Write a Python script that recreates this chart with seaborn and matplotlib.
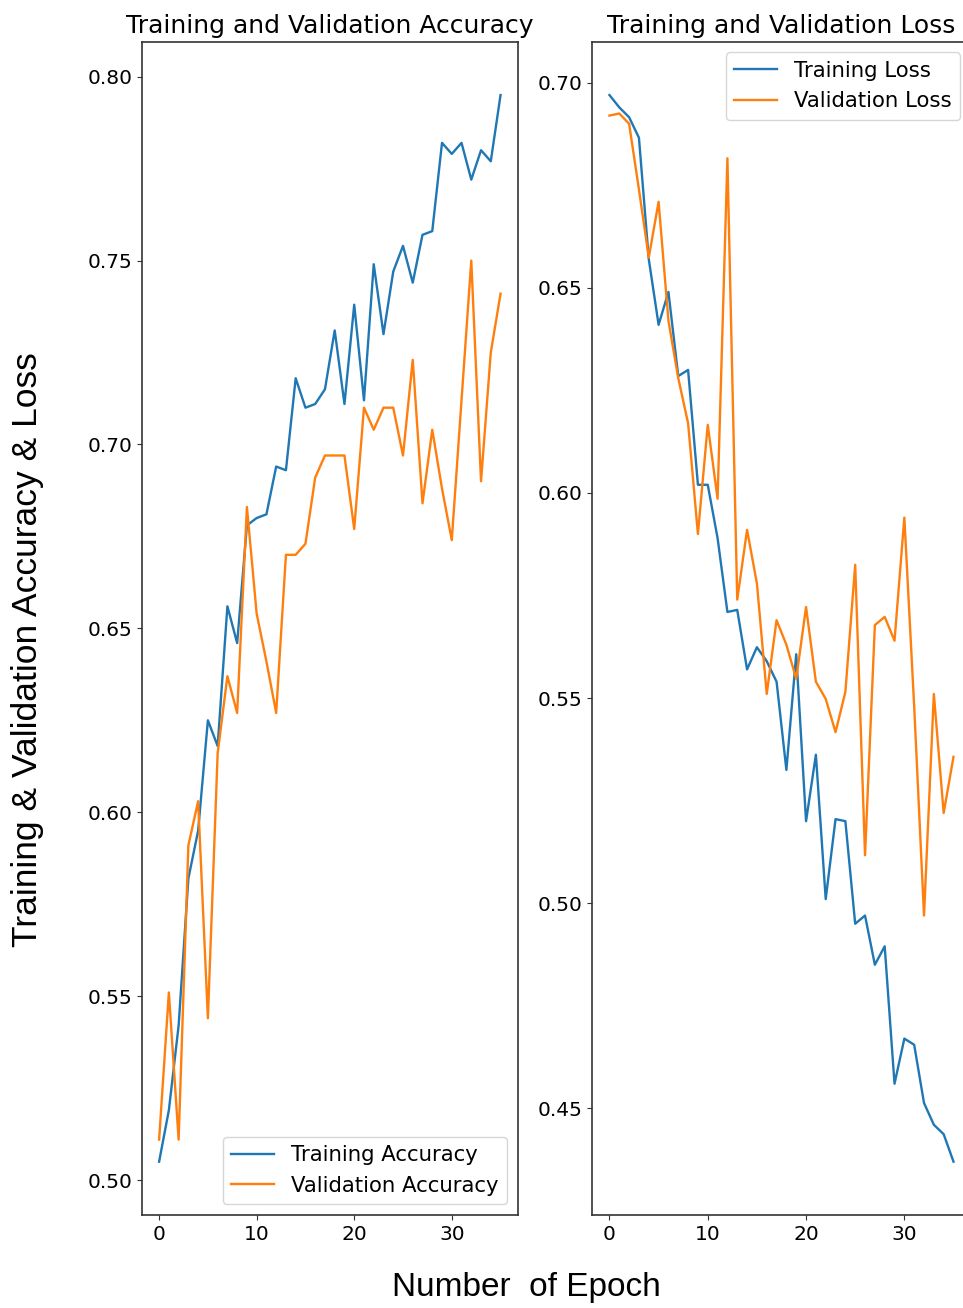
import numpy as np
import seaborn as sns
from matplotlib import pyplot as plt

# values (epochs 0..35)
epochs = np.arange(36)
train_acc = [0.505, 0.519, 0.542, 0.582, 0.595, 0.625, 0.618, 0.656, 0.646, 0.678,
             0.680, 0.681, 0.694, 0.693, 0.718, 0.710, 0.711, 0.715, 0.731, 0.711,
             0.738, 0.712, 0.749, 0.730, 0.747, 0.754, 0.744, 0.757, 0.758, 0.782,
             0.779, 0.782, 0.772, 0.780, 0.777, 0.795]
val_acc = [0.511, 0.551, 0.511, 0.591, 0.603, 0.544, 0.616, 0.637, 0.627, 0.683,
           0.654, 0.641, 0.627, 0.670, 0.670, 0.673, 0.691, 0.697, 0.697, 0.697,
           0.677, 0.710, 0.704, 0.710, 0.710, 0.697, 0.723, 0.684, 0.704, 0.688,
           0.674, 0.712, 0.750, 0.690, 0.725, 0.741]
train_loss = [0.697, 0.694, 0.6916, 0.6866, 0.657, 0.641, 0.649, 0.6285, 0.630, 0.602,
              0.602, 0.589, 0.571, 0.5715, 0.557, 0.5624, 0.559, 0.554, 0.5325, 0.5607,
              0.520, 0.5362, 0.501, 0.5205, 0.520, 0.495, 0.497, 0.485, 0.4895, 0.456,
              0.467, 0.4655, 0.4513, 0.446, 0.4437, 0.437]
val_loss = [0.692, 0.6925, 0.690, 0.674, 0.6574, 0.671, 0.642, 0.628, 0.617, 0.590,
            0.6166, 0.5986, 0.6816, 0.574, 0.591, 0.578, 0.551, 0.569, 0.563, 0.5547,
            0.5722, 0.554, 0.5498, 0.5417, 0.5515, 0.5825, 0.5117, 0.5678, 0.5698, 0.564,
            0.594, 0.548, 0.497, 0.551, 0.522, 0.5357]

blue = '#1f77b4'
orange = '#ff7f0e'

fig = plt.figure(figsize=(9.63, 13.08), dpi=100)
ax1 = fig.add_axes([0.1475, 0.0711, 0.390, 0.897])
ax2 = fig.add_axes([0.615, 0.0711, 0.393, 0.897])

# accuracy
sns.lineplot(x=epochs, y=train_acc, ax=ax1, color=blue, linewidth=1.7, label='Training Accuracy')
sns.lineplot(x=epochs, y=val_acc, ax=ax1, color=orange, linewidth=1.7, label='Validation Accuracy')
ax1.legend(loc='lower right', fontsize=15.3)
ax1.set_title('Training and Validation Accuracy', fontsize=18)
ax1.set_yticks([0.50, 0.55, 0.60, 0.65, 0.70, 0.75, 0.80])

# loss
sns.lineplot(x=epochs, y=train_loss, ax=ax2, color=blue, linewidth=1.7, label='Training Loss')
sns.lineplot(x=epochs, y=val_loss, ax=ax2, color=orange, linewidth=1.7, label='Validation Loss')
ax2.legend(loc='upper right', fontsize=15.3)
ax2.set_title('Training and Validation Loss', fontsize=18)
ax2.set_yticks([0.45, 0.50, 0.55, 0.60, 0.65, 0.70])

for ax in (ax1, ax2):
    ax.set_xticks([0, 10, 20, 30])
    ax.tick_params(labelsize=14.5, color='#333333')
    ax.set_xlabel('')
    ax.set_ylabel('')
    for s in ax.spines.values():
        s.set_linewidth(1.2)
        s.set_color('#333333')

fig.text(0.029, 0.503, 'Training & Validation Accuracy & Loss', rotation=90,
         ha='center', va='center', fontsize=25.5, family='Liberation Sans')
fig.text(0.547, 0.016, 'Number  of Epoch', ha='center', va='center',
         fontsize=24, family='Liberation Sans')

plt.savefig('out.png', dpi=100)
